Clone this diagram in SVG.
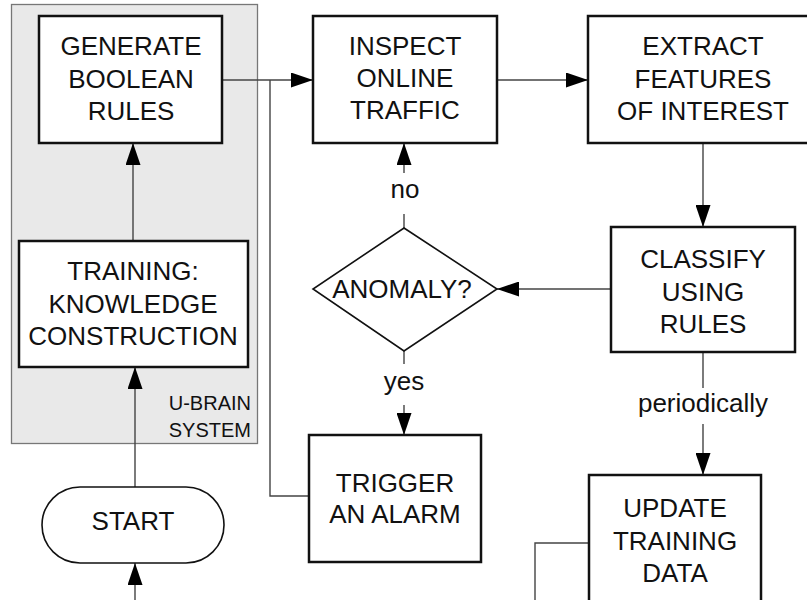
<svg xmlns="http://www.w3.org/2000/svg" width="807" height="600" viewBox="0 0 807 600">
  <defs>
    <marker id="arrow" viewBox="0 0 22 15" refX="22" refY="7.5" markerWidth="22" markerHeight="15" markerUnits="userSpaceOnUse" orient="auto">
      <path d="M0,0 L22,7.5 L0,15 Z" fill="#000"/>
    </marker>
    <style>
      .box { fill: #fff; stroke: #111; stroke-width: 2.5; }
      .thin { fill: #fff; stroke: #111; stroke-width: 1.6; }
      .panel { fill: #e9e9e9; stroke: #777; stroke-width: 1.3; }
      .lbl { font-family: "Liberation Sans", Arial, sans-serif; font-size: 26px; fill: #111; text-anchor: middle; }
      .small { font-family: "Liberation Sans", Arial, sans-serif; font-size: 20px; fill: #111; text-anchor: end; }
      .conn { fill: none; stroke: #444; stroke-width: 1.4; }
      .conn .arr { marker-end: url(#arrow); }
    </style>
  </defs>

  <rect width="807" height="600" fill="#fff"/>

  <!-- U-BRAIN system panel -->
  <g id="ubrain-system">
    <rect class="panel" x="11.5" y="4.5" width="246" height="439"/>
    <text class="small" x="251" y="410">U-BRAIN</text>
    <text class="small" x="251" y="437">SYSTEM</text>
  </g>

  <!-- connectors -->
  <g id="connectors" class="conn">
    <path class="arr" d="M222,80 H313"/>
    <path d="M309,496 H270 V80"/>
    <path class="arr" d="M497,80 H588"/>
    <path class="arr" d="M703,143 V227"/>
    <path class="arr" d="M611,289 H497"/>
    <path d="M404,228 V214"/>
    <path class="arr" d="M404,173 V143"/>
    <path d="M404,351 V364"/>
    <path class="arr" d="M404,405 V435"/>
    <path d="M703,352 V388"/>
    <path class="arr" d="M703,424 V475"/>
    <path d="M589,543 H535 V600"/>
    <path class="arr" d="M133,241 V143"/>
    <path class="arr" d="M135,487 V367"/>
    <path class="arr" d="M135,600 V563"/>
  </g>

  <!-- connector labels -->
  <g id="connector-labels">
    <text class="lbl" x="405" y="198">no</text>
    <text class="lbl" x="404" y="390">yes</text>
    <text class="lbl" x="703" y="412">periodically</text>
  </g>

  <g id="generate">
    <rect class="box" x="39" y="16" width="183" height="127"/>
    <text class="lbl" x="131" y="55">GENERATE</text>
    <text class="lbl" x="131" y="88">BOOLEAN</text>
    <text class="lbl" x="131" y="120">RULES</text>
  </g>

  <g id="inspect">
    <rect class="box" x="313" y="16" width="184" height="127"/>
    <text class="lbl" x="405" y="55">INSPECT</text>
    <text class="lbl" x="405" y="87">ONLINE</text>
    <text class="lbl" x="405" y="119">TRAFFIC</text>
  </g>

  <g id="extract">
    <rect class="box" x="588" y="16" width="232" height="127"/>
    <text class="lbl" x="703" y="55">EXTRACT</text>
    <text class="lbl" x="703" y="88">FEATURES</text>
    <text class="lbl" x="703" y="120">OF INTEREST</text>
  </g>

  <g id="classify">
    <rect class="box" x="611" y="227" width="184" height="125"/>
    <text class="lbl" x="703" y="268">CLASSIFY</text>
    <text class="lbl" x="703" y="301">USING</text>
    <text class="lbl" x="703" y="333">RULES</text>
  </g>

  <g id="anomaly">
    <polygon class="thin" points="404,228 497,289 404,351 313,289"/>
    <text class="lbl" x="402" y="298">ANOMALY?</text>
  </g>

  <g id="trigger">
    <rect class="box" x="309" y="435" width="172" height="127"/>
    <text class="lbl" x="395" y="492">TRIGGER</text>
    <text class="lbl" x="395" y="523">AN ALARM</text>
  </g>

  <g id="update">
    <rect class="box" x="589" y="475" width="172" height="180"/>
    <text class="lbl" x="675" y="517">UPDATE</text>
    <text class="lbl" x="675" y="550">TRAINING</text>
    <text class="lbl" x="675" y="582">DATA</text>
  </g>

  <g id="training">
    <rect class="box" x="19" y="241" width="229" height="126"/>
    <text class="lbl" x="133" y="280">TRAINING:</text>
    <text class="lbl" x="133" y="313">KNOWLEDGE</text>
    <text class="lbl" x="133" y="345">CONSTRUCTION</text>
  </g>

  <g id="start">
    <rect class="thin" x="42" y="487" width="182" height="76" rx="38" ry="38"/>
    <text class="lbl" x="133" y="530">START</text>
  </g>
</svg>
